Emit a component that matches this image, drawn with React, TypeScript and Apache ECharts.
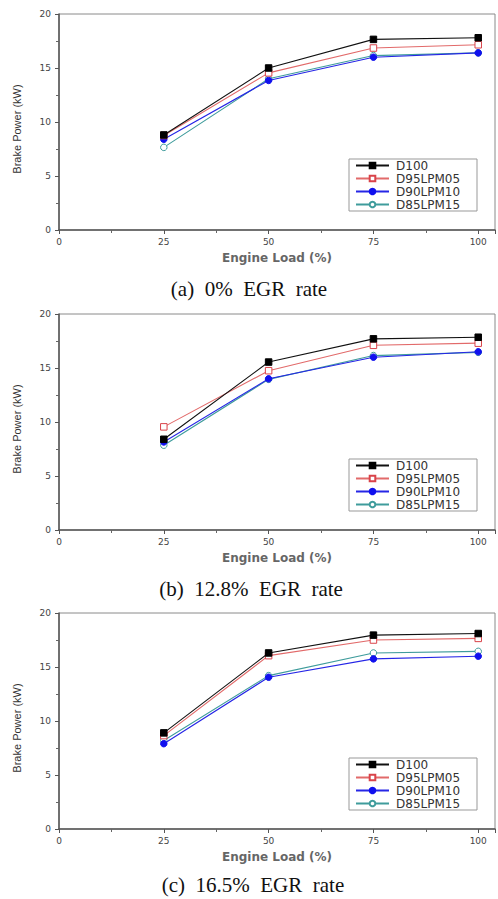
import React, { useEffect, useRef } from "react";
import * as echarts from "echarts";

const seriesNames = ["D100", "D95LPM05", "D90LPM10", "D85LPM15"];
const engineLoad = [25, 50, 75, 100];

// Panel (a) 0% EGR
const egr0_D100 = [8.8, 15.0, 17.65, 17.8];
const egr0_D95 = [8.75, 14.55, 16.85, 17.15];
const egr0_D90 = [8.4, 13.85, 16.0, 16.4];
const egr0_D85 = [7.65, 14.0, 16.15, 16.4];

// Panel (b) 12.8% EGR
const egr128_D100 = [8.4, 15.55, 17.7, 17.85];
const egr128_D95 = [9.55, 14.75, 17.1, 17.3];
const egr128_D90 = [8.15, 14.0, 16.0, 16.5];
const egr128_D85 = [7.85, 13.95, 16.15, 16.45];

// Panel (c) 16.5% EGR
const egr165_D100 = [8.9, 16.3, 17.95, 18.1];
const egr165_D95 = [8.65, 16.05, 17.5, 17.65];
const egr165_D90 = [7.9, 14.05, 15.75, 16.0];
const egr165_D85 = [8.2, 14.2, 16.3, 16.45];

const captions = ["(a)\u00A0\u00A00%\u00A0\u00A0EGR\u00A0\u00A0rate", "(b)\u00A0\u00A012.8%\u00A0\u00A0EGR\u00A0\u00A0rate", "(c)\u00A0\u00A016.5%\u00A0\u00A0EGR\u00A0\u00A0rate"];
const xTitle = "Engine Load (%)";
const yTitle = "Brake Power (kW)";

const panels = [
  [egr0_D100, egr0_D95, egr0_D90, egr0_D85],
  [egr128_D100, egr128_D95, egr128_D90, egr128_D85],
  [egr165_D100, egr165_D95, egr165_D90, egr165_D85],
];

const gridTops = [14, 314, 613];
const captionY = [289, 589, 885];
const captionX = [249, 251, 253];

const styles = [
  { line: "#111111", symbol: "rect", fill: "#000000", border: "#000000" },
  { line: "#e26a6a", symbol: "rect", fill: "#ffffff", border: "#d9434a" },
  { line: "#2626e6", symbol: "circle", fill: "#1010ee", border: "#1010ee" },
  { line: "#3f9c9c", symbol: "circle", fill: "#ffffff", border: "#3f9c9c" },
];

export default function App() {
  const ref = useRef<HTMLDivElement>(null);
  useEffect(() => {
    if (!ref.current) return;
    const chart = echarts.init(ref.current, undefined, { renderer: "svg" });
    const grids = gridTops.map((t) => ({
      left: 59,
      width: 436,
      top: t,
      height: 216,
      show: true,
      borderColor: "#8a8a8a",
      borderWidth: 1,
      backgroundColor: "transparent",
    }));
    const xAxes = gridTops.map((_, i) => ({
      type: "value",
      gridIndex: i,
      min: 0,
      max: 104,
      interval: 25,
      axisLine: { show: true, lineStyle: { color: "#555", width: 1.5 } },
      axisTick: { show: true, length: 4, lineStyle: { color: "#555" } },
      minorTick: { show: true, splitNumber: 2, length: 3, lineStyle: { color: "#666" } },
      splitLine: { show: false },
      minorSplitLine: { show: false },
      axisLabel: { fontSize: 9, color: "#444", margin: 7, showMaxLabel: false, fontFamily: "DejaVu Sans" },
      name: xTitle,
      nameLocation: "middle",
      nameGap: 22,
      nameTextStyle: { fontSize: 12, fontWeight: "bold", color: "#666", fontFamily: "DejaVu Sans" },
    }));
    const yAxes = gridTops.map((_, i) => ({
      type: "value",
      gridIndex: i,
      min: 0,
      max: 20,
      interval: 5,
      axisLine: { show: true, lineStyle: { color: "#555", width: 1.5 } },
      axisTick: { show: true, length: 4, lineStyle: { color: "#555" } },
      minorTick: { show: true, splitNumber: 2, length: 3, lineStyle: { color: "#666" } },
      splitLine: { show: false },
      axisLabel: { fontSize: 9, color: "#444", margin: 8, fontFamily: "DejaVu Sans" },
      name: yTitle,
      nameLocation: "middle",
      nameGap: 37,
      nameTextStyle: { fontSize: 11, color: "#333", fontFamily: "Liberation Sans", padding: [0, 14, 0, 0] },
    }));
    const series: any[] = [];
    panels.forEach((p, i) => {
      p.forEach((vals, j) => {
        const s = styles[j];
        series.push({
          type: "line",
          name: seriesNames[j],
          xAxisIndex: i,
          yAxisIndex: i,
          data: engineLoad.map((x, k) => [x, vals[k]]),
          symbol: s.symbol,
          symbolSize: 6.5,
          showSymbol: true,
          lineStyle: { color: s.line, width: 1.1 },
          itemStyle: { color: s.fill, borderColor: s.border, borderWidth: 1 },
          z: 10 - j,
        });
      });
    });
    const legends = gridTops.map((t) => ({
      data: seriesNames,
      orient: "vertical",
      left: 349,
      top: t + 145,
      itemWidth: 33,
      itemHeight: 7,
      itemGap: 0,
      padding: [0, 1, 0, 6],
      borderColor: "#999",
      borderWidth: 1,
      backgroundColor: "#fff",
      textStyle: { fontSize: 12, color: "#333", fontFamily: "DejaVu Sans", lineHeight: 13, width: 80, padding: [0, 0, 0, 2] },
    }));
    const graphics = captions.map((c, i) => ({
      type: "text",
      x: captionX[i],
      y: captionY[i],
      style: {
        text: c,
        fontSize: 21,
        fontFamily: "Liberation Serif",
        fill: "#111",
        textAlign: "center",
        textVerticalAlign: "middle",
      },
    }));
    chart.setOption({
      animation: false,
      backgroundColor: "#fff",
      grid: grids,
      xAxis: xAxes,
      yAxis: yAxes,
      legend: legends,
      series,
      graphic: graphics,
    });
    return () => chart.dispose();
  }, []);
  return <div ref={ref} style={{ position: "fixed", left: 0, top: 0, width: 498, height: 899 }} />;
}
